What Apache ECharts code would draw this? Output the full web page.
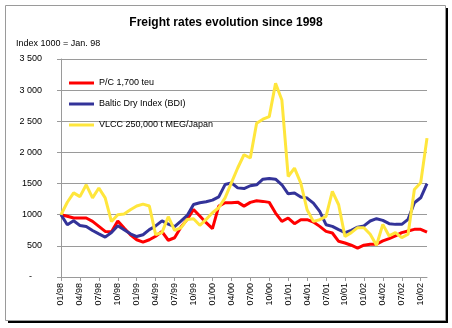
<!DOCTYPE html>
<html>
<head>
<meta charset="utf-8">
<script src="https://cdn.jsdelivr.net/npm/echarts@6/dist/echarts.min.js"></script>
<style>
  html, body { margin: 0; padding: 0; background: #fff; }
  #chart { width: 452px; height: 328px; }
</style>
</head>
<body>
<div id="chart"></div>
<script>
// Monthly observations, Jan. 1998 to Nov. 2002 (index 1000 = Jan. 98)
const months = [
  '01/98','02/98','03/98','04/98','05/98','06/98','07/98','08/98','09/98','10/98','11/98','12/98',
  '01/99','02/99','03/99','04/99','05/99','06/99','07/99','08/99','09/99','10/99','11/99','12/99',
  '01/00','02/00','03/00','04/00','05/00','06/00','07/00','08/00','09/00','10/00','11/00','12/00',
  '01/01','02/01','03/01','04/01','05/01','06/01','07/01','08/01','09/01','10/01','11/01','12/01',
  '01/02','02/02','03/02','04/02','05/02','06/02','07/02','08/02','09/02','10/02','11/02'
];

const pcFeeder = [
  1000, 975, 947, 947, 947, 892, 812, 732, 725, 900,
  786, 679, 598, 561, 598, 655, 730, 590, 630, 800,
  926, 1085, 979, 872, 777, 1138, 1192, 1192, 1202, 1138,
  1198, 1224, 1214, 1198, 1027, 893, 947, 856, 920, 920,
  883, 813, 733, 706, 573, 546, 510, 465, 510, 526,
  526, 579, 616, 659, 712, 739, 765, 765, 720
];

const balticDry = [
  1000, 839, 903, 828, 812, 747, 693, 640, 715, 823,
  758, 693, 650, 679, 760, 820, 900, 850, 810, 899,
  989, 1165, 1192, 1207, 1234, 1287, 1484, 1511, 1431, 1420,
  1465, 1481, 1571, 1582, 1571, 1481, 1336, 1347, 1283, 1267,
  1187, 1053, 840, 813, 760, 712, 749, 800, 820, 899,
  936, 909, 856, 845, 845, 925, 1192, 1272, 1500
];

const vlcc = [
  1000, 1200, 1350, 1290, 1480, 1270, 1430, 1270, 890, 1000,
  1010, 1080, 1140, 1170, 1140, 680, 713, 968, 750, 790,
  925, 936, 830, 925, 1032, 1112, 1271, 1511, 1750, 1963,
  1910, 2469, 2533, 2575, 3109, 2842, 1614, 1748, 1507, 1080,
  893, 920, 973, 1374, 1160, 650, 712, 792, 792, 686,
  510, 845, 659, 712, 632, 686, 1405, 1512, 2230
];

const seriesNames = ['P/C 1,700 teu', 'Baltic Dry Index (BDI)', 'VLCC 250,000 t MEG/Japan'];
const yTickLabels = { 0: '-    ', 500: '500', 1000: '1000', 1500: '1500',
  2000: '2 000', 2500: '2 500', 3000: '3 000', 3500: '3 500' };

const FONT = '"Liberation Sans", Arial, sans-serif';
const GRID_GRAY = '#9a9a9a';

const chart = echarts.init(document.getElementById('chart'), null, { renderer: 'canvas' });

function lineSeries(name, data, color) {
  return {
    name: name,
    type: 'line',
    data: data,
    symbol: 'none',
    showSymbol: false,
    smooth: false,
    animation: false,
    lineStyle: { color: color, width: 3 },
    itemStyle: { color: color },
    z: 3
  };
}

chart.setOption({
  animation: false,
  backgroundColor: '#ffffff',
  textStyle: { fontFamily: FONT },
  graphic: [
    { type: 'rect', z: -20, silent: true,
      shape: { x: 8, y: 8, width: 440, height: 315 },
      style: { fill: '#000000' } },
    { type: 'rect', z: -10, silent: true,
      shape: { x: 5.5, y: 5.5, width: 440, height: 315 },
      style: { fill: '#ffffff', stroke: '#9a9a9a', lineWidth: 1 } }
  ],
  title: [
    { text: 'Freight rates evolution since 1998', left: 'center', top: 12,
      textStyle: { fontFamily: FONT, fontSize: 12, fontWeight: 'bold', color: '#000' } },
    { text: 'Index 1000 = Jan. 98', left: 11, top: 34,
      textStyle: { fontFamily: FONT, fontSize: 9, fontWeight: 'normal', color: '#000' } }
  ],
  legend: {
    orient: 'vertical',
    left: 69,
    top: 77,
    padding: 0,
    icon: 'rect',
    itemWidth: 25,
    itemHeight: 3,
    itemGap: 9,
    data: seriesNames,
    textStyle: { fontFamily: FONT, fontSize: 9, color: '#000', lineHeight: 12 }
  },
  grid: { left: 61, right: 25, top: 59, bottom: 51, containLabel: false },
  xAxis: {
    type: 'category',
    data: months,
    boundaryGap: false,
    axisLine: { show: true, lineStyle: { color: GRID_GRAY, width: 1 } },
    axisTick: { show: true, interval: 2, length: 4, lineStyle: { color: GRID_GRAY } },
    axisLabel: { interval: 2, rotate: 90, margin: 6, fontSize: 9, color: '#000', fontFamily: FONT },
    splitLine: { show: false }
  },
  yAxis: {
    type: 'value',
    min: 0,
    max: 3500,
    interval: 500,
    axisLine: { show: true, lineStyle: { color: GRID_GRAY, width: 1 } },
    axisTick: { show: true, length: 4, lineStyle: { color: GRID_GRAY } },
    axisLabel: { margin: 19, fontSize: 9, color: '#000', fontFamily: FONT,
      formatter: function (v) { return yTickLabels[v] !== undefined ? yTickLabels[v] : String(v); } },
    splitLine: { show: true, lineStyle: { color: GRID_GRAY, width: 1 } }
  },
  series: [
    lineSeries(seriesNames[0], pcFeeder, '#ff0000'),
    lineSeries(seriesNames[1], balticDry, '#333399'),
    lineSeries(seriesNames[2], vlcc, '#ffe63c')
  ]
});
</script>
</body>
</html>
